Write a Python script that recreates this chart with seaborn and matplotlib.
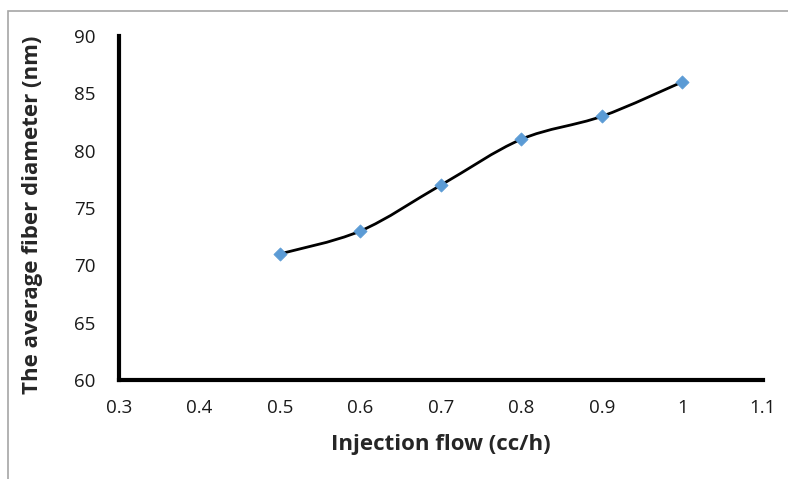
import numpy as np
import matplotlib
matplotlib.use("Agg")
import matplotlib.pyplot as plt
import seaborn as sns
import pandas as pd
from matplotlib.path import Path
from matplotlib.patches import PathPatch, Rectangle

# data
flow = [0.5, 0.6, 0.7, 0.8, 0.9, 1.0]
diameter = [71, 73, 77, 81, 83, 86]
x_ticks = [0.3, 0.4, 0.5, 0.6, 0.7, 0.8, 0.9, 1.0, 1.1]
x_labels = ["0.3", "0.4", "0.5", "0.6", "0.7", "0.8", "0.9", "1", "1.1"]
y_ticks = [60, 65, 70, 75, 80, 85, 90]

df = pd.DataFrame({"flow": flow, "diameter": diameter})

sns.set_style("white")
plt.rcParams["font.family"] = ["Open Sans", "DejaVu Sans"]

fig = plt.figure(figsize=(7.88, 4.79), dpi=100)
ax = fig.add_axes([0.151, 0.2067, 0.817, 0.718])

# smoothed line like Excel's "smoothed line" option (cubic Bezier segments)
pts = np.column_stack([flow, diameter]).astype(float)
verts = [tuple(pts[0])]
codes = [Path.MOVETO]
n = len(pts)
for i in range(n - 1):
    p0 = pts[i - 1] if i > 0 else pts[i]
    p1 = pts[i]
    p2 = pts[i + 1]
    p3 = pts[i + 2] if i + 2 < n else pts[i + 1]
    c1 = p1 + (p2 - p0) / 6.0
    c2 = p2 - (p3 - p1) / 6.0
    verts += [tuple(c1), tuple(c2), tuple(p2)]
    codes += [Path.CURVE4] * 3
ax.add_patch(PathPatch(Path(verts, codes), fill=False, edgecolor="black",
                       linewidth=2.0, zorder=2))

sns.scatterplot(data=df, x="flow", y="diameter", marker="D", s=45,
                color="#5B9BD5", edgecolor="#5B9BD5", ax=ax, zorder=3)

ax.set_xlim(0.3, 1.1)
ax.set_ylim(60, 90)
ax.set_xticks(x_ticks)
ax.set_xticklabels(x_labels)
ax.set_yticks(y_ticks)
ax.tick_params(axis="both", length=0, labelsize=13.5, colors="#1a1a1a")
ax.tick_params(axis="x", pad=14)
ax.tick_params(axis="y", pad=17)

for side in ["top", "right"]:
    ax.spines[side].set_visible(False)
for side in ["left", "bottom"]:
    ax.spines[side].set_color("black")
    ax.spines[side].set_linewidth(3)

ax.set_xlabel("Injection flow (cc/h)", fontsize=16, fontweight="bold", labelpad=12)
ax.set_ylabel("The average fiber diameter (nm)", fontsize=16, fontweight="bold", labelpad=25)
ax.yaxis.set_label_coords(-0.118, 0.48)

# light grey frame around the chart area
fig.patches.append(Rectangle((8 / 788, -0.1), 1.2, 1 - 11 / 479 + 0.1,
                             transform=fig.transFigure, fill=False,
                             edgecolor="#A6A6A6", linewidth=1.2))

fig.savefig("out.png", dpi=100)
